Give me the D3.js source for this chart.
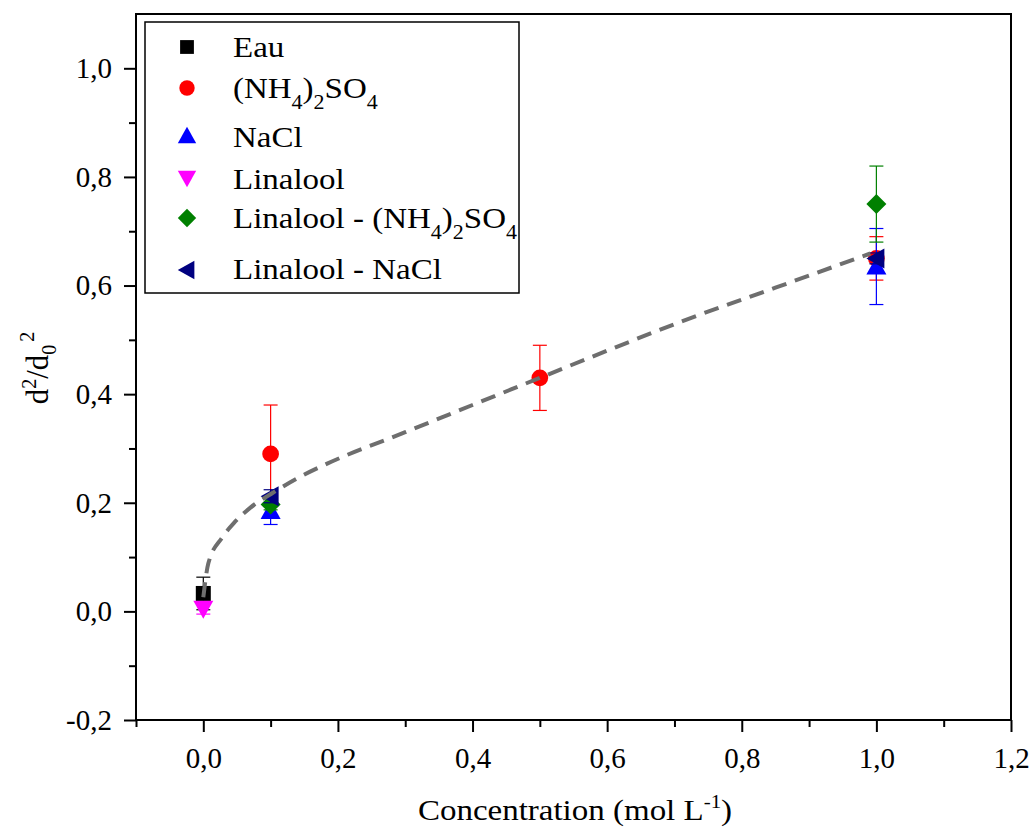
<!DOCTYPE html>
<html><head><meta charset="utf-8">
<script src="https://cdn.jsdelivr.net/npm/d3@7"></script>
<style>body{margin:0;background:#fff}svg{display:block}text{font-family:"Liberation Serif","Times New Roman",serif;fill:#000}</style>
</head><body><svg id="c" width="1032" height="830"></svg>
<script>
// ---- data ----
const seriesNames = ["Eau", "(NH4)2SO4", "NaCl", "Linalool", "Linalool - (NH4)2SO4", "Linalool - NaCl"];
const eauX = [0.0], eauY = [0.033], eauErr = [0.03];
const nh4X = [0.1, 0.5, 1.0], nh4Y = [0.29, 0.43, 0.65], nh4Err = [0.09, 0.06, 0.04];
const naclX = [0.1, 1.0], naclY = [0.185, 0.635], naclErr = [0.025, 0.07];
const linX = [0.0], linY = [0.005], linErr = [0.01];
const linNh4X = [0.1, 1.0], linNh4Y = [0.197, 0.75], linNh4Err = [0.01, 0.07];
const linNaclX = [0.1, 1.0], linNaclY = [0.212, 0.65], linNaclErr = [0.012, 0.01];
const fitX = [0, 0.0074, 0.028, 0.045, 0.07, 0.104, 0.144, 0.184, 0.3, 0.4, 0.5, 0.6, 0.713, 0.85, 0.991];
const fitY = [0.026, 0.088, 0.136, 0.162, 0.191, 0.219, 0.248, 0.272, 0.33, 0.38, 0.43, 0.48, 0.535, 0.596, 0.659];
const xMajorTicks = [0.0, 0.2, 0.4, 0.6, 0.8, 1.0, 1.2];
const xMinorTicks = [-0.1, 0.1, 0.3, 0.5, 0.7, 0.9, 1.1];
const yMajorTicks = [-0.2, 0.0, 0.2, 0.4, 0.6, 0.8, 1.0];
const yMinorTicks = [-0.1, 0.1, 0.3, 0.5, 0.7, 0.9];

// ---- layout ----
const L = 136, R = 1011, T = 14, B = 720;
const svg = d3.select("#c");
const x = d3.scaleLinear().domain([-0.1, 1.2]).range([L, R]);
const y = d3.scaleLinear().domain([-0.2, 1.1]).range([B, T]);
const fmt = v => d3.format(".1f")(v).replace(".", ",").replace("−", "-");

const series = [
  {xs: eauX, ys: eauY, es: eauErr, color: "#000000", sym: "square"},
  {xs: nh4X, ys: nh4Y, es: nh4Err, color: "#ff0000", sym: "circle"},
  {xs: naclX, ys: naclY, es: naclErr, color: "#0000ff", sym: "up"},
  {xs: linX, ys: linY, es: linErr, color: "#ff00ff", sym: "down"},
  {xs: linNh4X, ys: linNh4Y, es: linNh4Err, color: "#008000", sym: "diamond"},
  {xs: linNaclX, ys: linNaclY, es: linNaclErr, color: "#000080", sym: "left"}
];

function symPath(sym) {
  switch (sym) {
    case "square": return "M-7.5,-7.5H7.5V7.5H-7.5Z";
    case "circle": return d3.symbol(d3.symbolCircle, 220)();
    case "up": return "M0,-10L10,8H-10Z";
    case "down": return "M0,10L10,-8H-10Z";
    case "diamond": return "M0,-10L10,0L0,10L-10,0Z";
    case "left": return "M-10,0L8,-10V10Z";
  }
}

// frame
svg.append("rect").attr("x", L).attr("y", T).attr("width", R - L).attr("height", B - T)
  .attr("fill", "none").attr("stroke", "#000").attr("stroke-width", 2);

// axes
const xMaj = d3.axisBottom(x).tickValues(xMajorTicks).tickSize(12).tickSizeOuter(0).tickPadding(15).tickFormat(fmt);
const xMin = d3.axisBottom(x).tickValues(xMinorTicks).tickSize(7).tickSizeOuter(0).tickFormat("");
const yMaj = d3.axisLeft(y).tickValues(yMajorTicks).tickSize(12).tickSizeOuter(0).tickPadding(12).tickFormat(fmt);
const yMin = d3.axisLeft(y).tickValues(yMinorTicks).tickSize(7).tickSizeOuter(0).tickFormat("");
[[xMaj, "translate(0," + B + ")"], [xMin, "translate(0," + B + ")"], [yMaj, "translate(" + L + ",0)"], [yMin, "translate(" + L + ",0)"]]
  .forEach(([ax, tr]) => {
    const g = svg.append("g").attr("transform", tr).call(ax);
    g.select(".domain").remove();
    g.selectAll("line").attr("stroke", "#000").attr("stroke-width", 2);
    g.selectAll("text").attr("font-size", 29).attr("font-family", "Liberation Serif");
  });

// series
series.forEach(s => {
  const g = svg.append("g");
  s.xs.forEach((xv, i) => {
    const cx = x(xv), y1 = y(s.ys[i] + s.es[i]), y0 = y(s.ys[i] - s.es[i]);
    g.append("line").attr("x1", cx).attr("x2", cx).attr("y1", y1).attr("y2", y0).attr("stroke", s.color).attr("stroke-width", 1.2);
    [y1, y0].forEach(yy => g.append("line").attr("x1", cx - 7).attr("x2", cx + 7).attr("y1", yy).attr("y2", yy).attr("stroke", s.color).attr("stroke-width", 1.2));
    g.append("path").attr("d", symPath(s.sym)).attr("transform", "translate(" + cx + "," + y(s.ys[i]) + ")").attr("fill", s.color);
  });
});

// fit line
const fitData = fitX.map((v, i) => [v, fitY[i]]);
svg.append("path").datum(fitData)
  .attr("d", d3.line().x(d => x(d[0])).y(d => y(d[1])).curve(d3.curveMonotoneX))
  .attr("fill", "none").attr("stroke", "#6e6e6e").attr("stroke-width", 4).attr("stroke-dasharray", "15,9");

// legend
const leg = svg.append("g");
leg.append("rect").attr("x", 145).attr("y", 22).attr("width", 374).attr("height", 271)
  .attr("fill", "#fff").attr("stroke", "#000").attr("stroke-width", 1.5);
const legBase = [57, 98, 147, 189, 228, 279];
const legSym = [47, 88, 136, 178, 218, 270];
const legParts = [
  [["Eau", 0]],
  [["(NH", 0], ["4", 1], [")", 0], ["2", 1], ["SO", 0], ["4", 1]],
  [["NaCl", 0]],
  [["Linalool", 0]],
  [["Linalool - (NH", 0], ["4", 1], [")", 0], ["2", 1], ["SO", 0], ["4", 1]],
  [["Linalool - NaCl", 0]]
];
series.forEach((s, i) => {
  leg.append("path").attr("d", symPath(s.sym)).attr("transform", "translate(187," + legSym[i] + ") scale(0.92)").attr("fill", s.color);
  const t = leg.append("text").attr("transform", "translate(233," + legBase[i] + ") scale(1.1,1)").attr("font-size", 30);
  let down = false;
  legParts[i].forEach(([txt, sub]) => {
    const ts = t.append("tspan").text(txt);
    if (sub && !down) { ts.attr("dy", 11).attr("font-size", 20); down = true; }
    else if (sub) { ts.attr("font-size", 20); }
    else if (down) { ts.attr("dy", -11); down = false; }
  });
});

// axis titles
const xt = svg.append("text").attr("transform", "translate(575,820) scale(1.1,1)").attr("text-anchor", "middle").attr("font-size", 30);
xt.append("tspan").text("Concentration (mol L");
xt.append("tspan").text("-1").attr("font-size", 19).attr("dy", -12);
xt.append("tspan").text(")").attr("dy", 12);

const yt = svg.append("text").attr("transform", "translate(48,368) rotate(-90)").attr("text-anchor", "middle").attr("font-size", 31);
yt.append("tspan").text("d");
yt.append("tspan").text("2").attr("font-size", 20).attr("dy", -12);
yt.append("tspan").text("/d").attr("dy", 12);
yt.append("tspan").text("0").attr("font-size", 20).attr("dy", 8);
yt.append("tspan").text("2").attr("font-size", 20).attr("dy", -22).attr("dx", 3);
</script></body></html>
